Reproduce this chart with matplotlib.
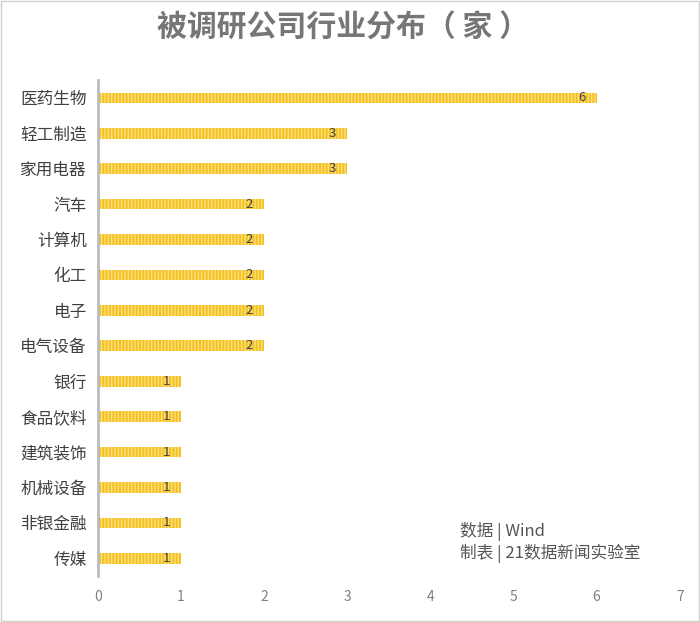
import matplotlib
matplotlib.use("Agg")
import matplotlib.pyplot as plt
from matplotlib.patches import Rectangle

plt.rcParams['font.family'] = ['Noto Sans CJK SC', 'DejaVu Sans']
plt.rcParams['hatch.linewidth'] = 1.0

categories = ["医药生物", "轻工制造", "家用电器", "汽车", "计算机", "化工", "电子",
              "电气设备", "银行", "食品饮料", "建筑装饰", "机械设备", "非银金融", "传媒"]
values = [6, 3, 3, 2, 2, 2, 2, 2, 1, 1, 1, 1, 1, 1]
xticks = [0, 1, 2, 3, 4, 5, 6, 7]

fig = plt.figure(figsize=(7, 6.22), dpi=100)
ax = fig.add_axes([0.14, 0.074, 0.831, 0.797])

y = list(range(len(categories)))
ax.barh(y, values, height=0.3, color='#F4C020', edgecolor='#FAE07E',
        hatch='|||||', linewidth=0)
for yi, v in zip(y, values):
    ax.text(v - 0.18, yi, str(v), ha='center', va='center', fontsize=9.5, color='#444444')

ax.set_ylim(len(categories) - 0.5, -0.5)
ax.set_xlim(0, 7)
ax.set_yticks(y)
ax.set_yticklabels(categories, fontsize=12, color='#404040')
ax.set_xticks(xticks)
ax.set_xticklabels([str(t) for t in xticks], fontsize=10, color='#808080')
ax.tick_params(axis='both', length=0)
ax.tick_params(axis='x', pad=10)
ax.tick_params(axis='y', pad=8)
for s in ['top', 'right', 'bottom']:
    ax.spines[s].set_visible(False)
ax.spines['left'].set_color('#BBBBBB')
ax.spines['left'].set_linewidth(2)

fig.text(0.224, 0.955, "被调研公司行业分布（ 家 ）", ha='left', va='center',
         fontsize=21.5, fontweight='bold', color='#767676')
fig.text(0.657, 0.145, "数据 | Wind", ha='left', va='center', fontsize=12, color='#555555')
fig.text(0.657, 0.111, "制表 | 21数据新闻实验室", ha='left', va='center', fontsize=12, color='#555555')

fig.patches.append(Rectangle((0.001, 0.001), 0.998, 0.998, transform=fig.transFigure,
                             fill=False, edgecolor='#D0D0D0', linewidth=1))

fig.savefig("out.png", dpi=100)
